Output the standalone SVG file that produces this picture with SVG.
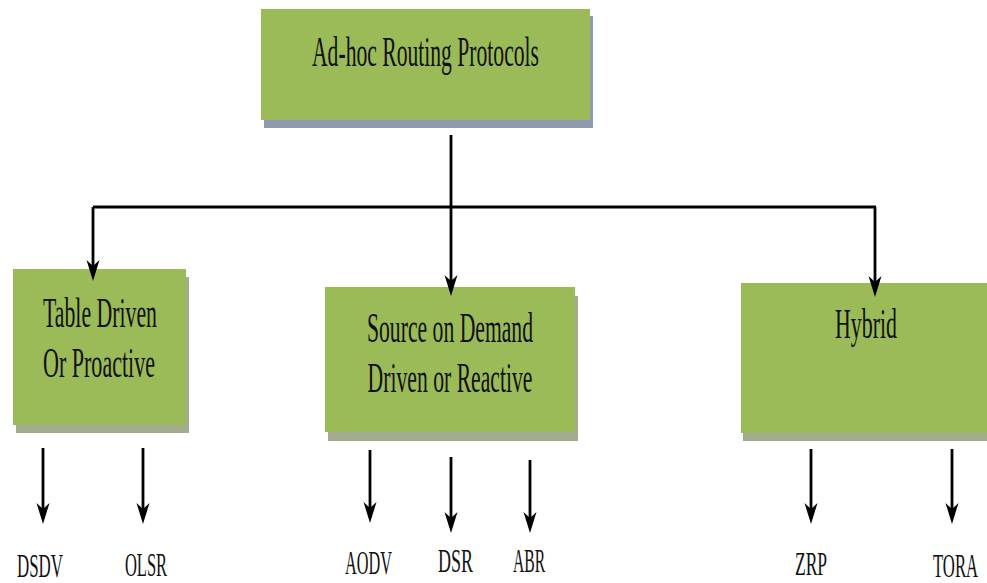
<svg xmlns="http://www.w3.org/2000/svg" width="987" height="583" viewBox="0 0 987 583">
<style>
.box{fill:#9bbb59}
.sh{fill:#a3ab8f}
.shb{fill:#8e9bae}
.t{font-family:"Liberation Serif","Times New Roman",serif;fill:#111;text-anchor:middle}
.big{font-size:43px}
.lab{font-size:34px}
.c{stroke:#000;stroke-width:2.8;fill:none}
</style>
<defs>
<marker id="ah" markerUnits="userSpaceOnUse" markerWidth="22" markerHeight="14" refX="10" refY="6.5" orient="auto">
<path d="M0,0 L21,6.5 L0,13 L6,6.5 Z" fill="#000"/>
</marker>
</defs>
<rect width="987" height="583" fill="#fff"/>
<g id="node-root">
<rect class="shb" x="264" y="16" width="329" height="112"/>
<rect class="box" x="261" y="9" width="329" height="111"/>
<text class="t big" transform="translate(425.5,66) scale(0.5,1)" x="0" y="0" textLength="454" lengthAdjust="spacingAndGlyphs">Ad-hoc Routing Protocols</text>
</g>
<g id="node-table">
<rect class="sh" x="16" y="277" width="173" height="156"/>
<rect class="box" x="13" y="269" width="173" height="156"/>
<text class="t big" transform="translate(100,327) scale(0.5,1)" x="0" y="0" textLength="228" lengthAdjust="spacingAndGlyphs">Table Driven</text>
<text class="t big" transform="translate(99,377) scale(0.5,1)" x="0" y="0" textLength="224" lengthAdjust="spacingAndGlyphs">Or Proactive</text>
</g>
<g id="node-source">
<rect class="sh" x="328" y="296" width="250" height="145"/>
<rect class="box" x="325" y="287" width="250" height="145"/>
<text class="t big" transform="translate(450,342) scale(0.5,1)" x="0" y="0" textLength="332" lengthAdjust="spacingAndGlyphs">Source on Demand</text>
<text class="t big" transform="translate(450,392) scale(0.5,1)" x="0" y="0" textLength="330" lengthAdjust="spacingAndGlyphs">Driven or Reactive</text>
</g>
<g id="node-hybrid">
<rect class="sh" x="743" y="291" width="250" height="150"/>
<rect class="box" x="741" y="283" width="250" height="150"/>
<text class="t big" transform="translate(866,338) scale(0.5,1)" x="0" y="0" textLength="124" lengthAdjust="spacingAndGlyphs">Hybrid</text>
</g>
<g id="node-dsdv"><text class="t lab" transform="translate(40,577) scale(0.48,1)" x="0" y="0" textLength="96" lengthAdjust="spacingAndGlyphs">DSDV</text></g>
<g id="node-olsr"><text class="t lab" transform="translate(146,576) scale(0.48,1)" x="0" y="0" textLength="88" lengthAdjust="spacingAndGlyphs">OLSR</text></g>
<g id="node-aodv"><text class="t lab" transform="translate(368.5,574) scale(0.48,1)" x="0" y="0" textLength="98" lengthAdjust="spacingAndGlyphs">AODV</text></g>
<g id="node-dsr"><text class="t lab" transform="translate(455.5,572) scale(0.48,1)" x="0" y="0" textLength="73" lengthAdjust="spacingAndGlyphs">DSR</text></g>
<g id="node-abr"><text class="t lab" transform="translate(529,572) scale(0.48,1)" x="0" y="0" textLength="67" lengthAdjust="spacingAndGlyphs">ABR</text></g>
<g id="node-zrp"><text class="t lab" transform="translate(811,575) scale(0.48,1)" x="0" y="0" textLength="67" lengthAdjust="spacingAndGlyphs">ZRP</text></g>
<g id="node-tora"><text class="t lab" transform="translate(955.5,577) scale(0.48,1)" x="0" y="0" textLength="94" lengthAdjust="spacingAndGlyphs">TORA</text></g>
<g id="connectors">
<line class="c" x1="93" y1="207" x2="876" y2="207"/>
<line class="c" x1="451" y1="135" x2="451" y2="285" marker-end="url(#ah)"/>
<polyline class="c" points="93,207 93,270" marker-end="url(#ah)"/>
<polyline class="c" points="875,207 875,286" marker-end="url(#ah)"/>
<line class="c" x1="43" y1="448" x2="43" y2="513" marker-end="url(#ah)"/>
<line class="c" x1="143" y1="448" x2="143" y2="513" marker-end="url(#ah)"/>
<line class="c" x1="370" y1="450" x2="370" y2="512" marker-end="url(#ah)"/>
<line class="c" x1="451" y1="457" x2="451" y2="522" marker-end="url(#ah)"/>
<line class="c" x1="530" y1="460" x2="530" y2="522" marker-end="url(#ah)"/>
<line class="c" x1="811" y1="449" x2="811" y2="513" marker-end="url(#ah)"/>
<line class="c" x1="952" y1="449" x2="952" y2="513" marker-end="url(#ah)"/>
</g>
</svg>
